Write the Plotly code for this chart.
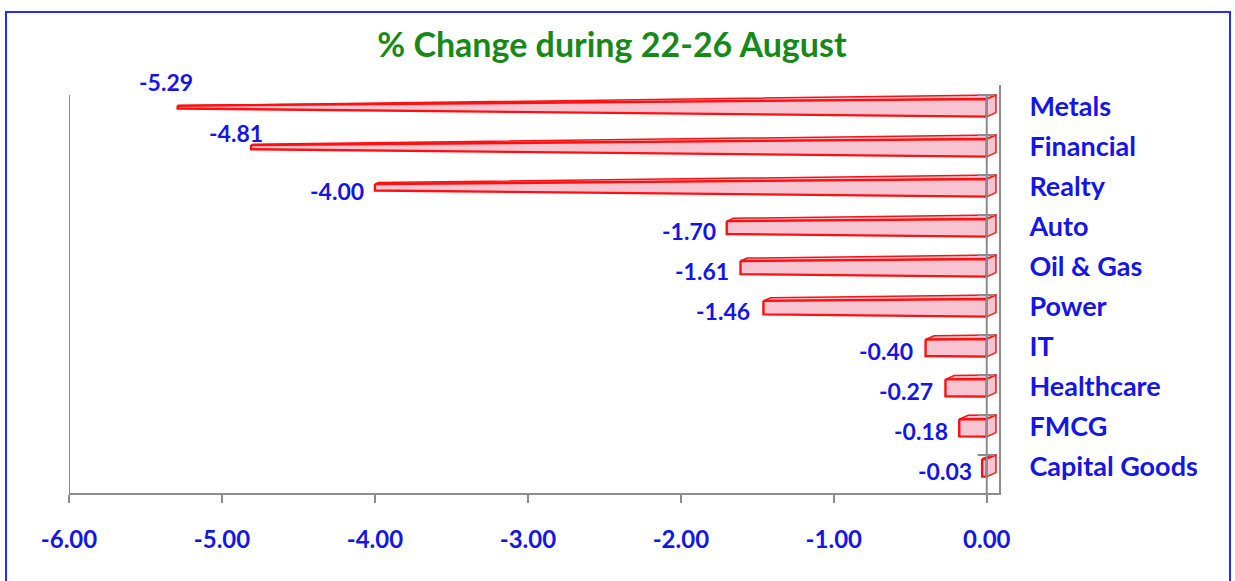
import plotly.graph_objects as go

categories = ["Metals", "Financial", "Realty", "Auto", "Oil & Gas", "Power",
              "IT", "Healthcare", "FMCG", "Capital Goods"]
values = [-5.29, -4.81, -4.00, -1.70, -1.61, -1.46, -0.40, -0.27, -0.18, -0.03]
x_ticks = [-6, -5, -4, -3, -2, -1, 0]
x_tick_labels = ["-6.00", "-5.00", "-4.00", "-3.00", "-2.00", "-1.00", "0.00"]

# style / label tweaks (pixel shifts for data labels)
label_dx = [17, 14, -9, -9, -10, -11, -11, -10, -9, -8]
label_dy = [25, 14, -4, -4, -4, -4, -4, -4, -4, -4]

BLUE = "#1515e8"
RED = "#ff1010"
PINK = "#f8c4d2"
GRAY = "#8c8c8c"
FONT = "Lato"

X_MIN, X_MAX = -6.0, 0.08
TAPER_L = 6.3           # where the truncated pyramid would reach zero
H_TOP, H_BOT = 0.2, 0.24  # front face half heights at x=0
DEPTH_X, DEPTH_Y = 0.06, 0.10

W, H = 1235, 581
ML, MR, MT, MB = 69, 236, 85, 88
PW, PH = W - ML - MR, H - MT - MB

fig = go.Figure()

def scale(x):
    return 1 - abs(x) / TAPER_L

for i, v in enumerate(values):
    s0 = 1.0
    s1 = scale(v)
    top0, bot0 = i - H_TOP * s0, i + H_BOT * s0
    top1, bot1 = i - H_TOP * s1, i + H_BOT * s1
    dy0, dy1 = DEPTH_Y * s0, DEPTH_Y * s1
    # top face
    fig.add_trace(go.Scatter(
        x=[v, 0, DEPTH_X, v + DEPTH_X * s1, v],
        y=[top1, top0, top0 - dy0, top1 - dy1, top1],
        mode="lines", fill="toself", fillcolor=PINK,
        line=dict(color=RED, width=1.5), hoverinfo="skip", showlegend=False))
    # front face
    fig.add_trace(go.Scatter(
        x=[v, 0, 0, v, v],
        y=[top1, top0, bot0, bot1, top1],
        mode="lines", fill="toself", fillcolor=PINK,
        line=dict(color=RED, width=2.4), hoverinfo="skip", showlegend=False,
        name=categories[i]))
    # right end face
    fig.add_trace(go.Scatter(
        x=[0, DEPTH_X, DEPTH_X, 0, 0],
        y=[top0, top0 - dy0, bot0 - dy0, bot0, top0],
        mode="lines", fill="toself", fillcolor=PINK,
        line=dict(color=RED, width=1.5), hoverinfo="skip", showlegend=False))

shapes = []
n = len(categories)
# front category axis line at x=0 with tick marks between categories
shapes.append(dict(type="line", xref="x", yref="y", x0=0, x1=0, y0=-0.3, y1=9.8,
                   line=dict(color=GRAY, width=2)))
for i in range(n):
    shapes.append(dict(type="line", xref="x", yref="y", x0=-0.06, x1=0.05,
                       y0=i - 0.3, y1=i - 0.3, line=dict(color=GRAY, width=2)))
# left wall line
shapes.append(dict(type="line", xref="x", yref="y", x0=-6, x1=-6, y0=-0.3, y1=9.65,
                   line=dict(color=GRAY, width=2)))
# outer blue border
shapes.append(dict(type="rect", xref="paper", yref="paper",
                   x0=(6 - ML) / PW, x1=(1230 - ML) / PW,
                   y0=(H - MB - 583) / PH, y1=(H - MB - 12) / PH,
                   line=dict(color="#2a2af0", width=2), layer="below"))

annotations = []
for i, v in enumerate(values):
    annotations.append(dict(x=v, y=i, xref="x", yref="y", text=f"<b>{v:.2f}</b>",
                            showarrow=False, xanchor="right", yanchor="middle",
                            xshift=label_dx[i], yshift=label_dy[i],
                            font=dict(family=FONT, size=23, color=BLUE)))

fig.update_layout(
    width=W, height=H,
    margin=dict(l=ML, r=MR, t=MT, b=MB, autoexpand=False),
    paper_bgcolor="white", plot_bgcolor="white",
    title=dict(text="<b>% Change during 22-26 August</b>", x=0.4955, xanchor="center",
               y=0.922, yanchor="middle",
               font=dict(family=FONT, size=34, color="#17891a")),
    xaxis=dict(range=[X_MIN, X_MAX], tickvals=x_ticks, ticktext=x_tick_labels,
               automargin=False,
               showgrid=False, zeroline=False, showline=True, linecolor=GRAY,
               linewidth=2, ticks="outside", ticklen=8, tickwidth=2, tickcolor=GRAY,
               ticklabelstandoff=16,
               tickfont=dict(family=FONT, size=24, color=BLUE, weight="bold")),
    yaxis=dict(range=[9.65, -0.55], tickvals=list(range(n)), ticktext=categories,
               automargin=False,
               side="right", showgrid=False, zeroline=False, showline=True,
               linecolor=GRAY, linewidth=2, ticks="", ticklabelstandoff=23,
               tickfont=dict(family=FONT, size=27, color=BLUE, weight="bold")),
    shapes=shapes, annotations=annotations, showlegend=False,
)

fig.write_html("out.html", config={"displayModeBar": False},
               post_script="document.body.style.margin='0px';")
